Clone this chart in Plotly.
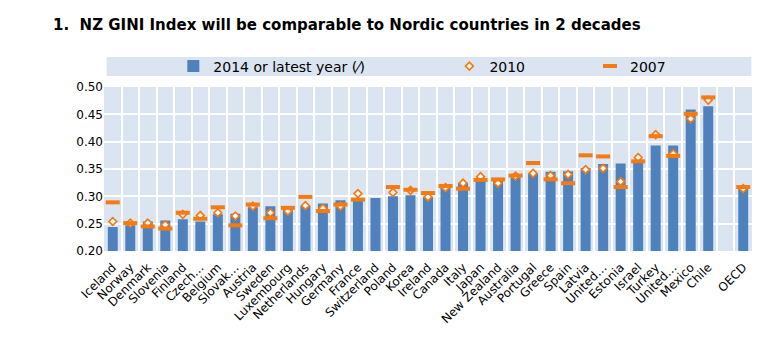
import plotly.graph_objects as go

categories = ["Iceland", "Norway", "Denmark", "Slovenia", "Finland", "Czech Republic", "Belgium",
              "Slovak Republic", "Austria", "Sweden", "Luxembourg", "Netherlands", "Hungary", "Germany",
              "France", "Switzerland", "Poland", "Korea", "Ireland", "Canada", "Italy", "Japan",
              "New Zealand", "Australia", "Portugal", "Greece", "Spain", "Latvia", "United Kingdom",
              "Estonia", "Israel", "Turkey", "United States", "Mexico", "Chile", " ", "OECD"]
tick_labels = ["Iceland", "Norway", "Denmark", "Slovenia", "Finland", "Czech…", "Belgium",
               "Slovak…", "Austria", "Sweden", "Luxembourg", "Netherlands", "Hungary", "Germany",
               "France", "Switzerland", "Poland", "Korea", "Ireland", "Canada", "Italy", "Japan",
               "New Zealand", "Australia", "Portugal", "Greece", "Spain", "Latvia", "United…",
               "Estonia", "Israel", "Turkey", "United…", "Mexico", "Chile", " ", "OECD"]

gini_2014 = [0.244, 0.247, 0.254, 0.256, 0.258, 0.254, 0.267, 0.268, 0.280, 0.282, 0.278, 0.283,
             0.287, 0.293, 0.295, 0.297, 0.300, 0.302, 0.299, 0.317, 0.325, 0.329, 0.331, 0.335,
             0.342, 0.345, 0.346, 0.352, 0.359, 0.360, 0.367, 0.393, 0.393, 0.459, 0.465, None, 0.314]
gini_2010 = [0.254, 0.251, 0.251, 0.248, 0.267, 0.265, 0.270, 0.264, 0.282, 0.270, 0.273, 0.283,
             0.278, 0.282, 0.305, None, 0.307, 0.311, 0.299, 0.316, 0.324, 0.336, 0.324, 0.337,
             0.342, 0.338, 0.340, 0.349, 0.351, 0.327, 0.371, 0.413, 0.378, 0.442, 0.476, None, 0.314]
gini_2007 = [0.289, 0.251, 0.245, 0.241, 0.270, 0.259, 0.280, 0.247, 0.285, 0.260, 0.279, 0.299,
             0.273, 0.285, 0.294, None, 0.317, 0.312, 0.306, 0.319, 0.314, 0.330, 0.331, 0.338,
             0.361, 0.331, 0.324, 0.375, 0.373, 0.317, 0.364, 0.410, 0.374, 0.451, 0.481, None, 0.317]

y_ticks = [0.20, 0.25, 0.30, 0.35, 0.40, 0.45, 0.50]

BLUE = "#4f81bd"
ORANGE = "#f67a12"
BAND = "#dbe5f1"
FONT = "DejaVu Sans"

fig = go.Figure()
fig.add_trace(go.Bar(
    x=categories, y=gini_2014, name="2014 or latest year (⁄)",
    marker=dict(color=BLUE, line=dict(width=0)), legend="legend",
))
fig.add_trace(go.Scatter(
    x=categories, y=gini_2010, name="2010", mode="markers",
    marker=dict(symbol="diamond", size=6, color="white", line=dict(color=ORANGE, width=1.7)),
    legend="legend2",
))
fig.add_trace(go.Scatter(
    x=categories, y=gini_2007, name="2007", mode="markers",
    marker=dict(symbol="line-ew", size=10, color=ORANGE, line=dict(color=ORANGE, width=4)),
    legend="legend3",
))

legend_common = dict(orientation="h", yanchor="middle", y=1.125, xanchor="left",
                     bgcolor="rgba(0,0,0,0)", borderwidth=0,
                     font=dict(family=FONT, size=14, color="#000000"))

fig.update_layout(
    width=769, height=350,
    margin=dict(l=104, r=17, t=87, b=99),
    paper_bgcolor="white",
    plot_bgcolor=BAND,
    bargap=0.43,
    font=dict(family=FONT, size=12, color="#000000"),
    title=dict(text="<b>1.  NZ GINI Index will be comparable to Nordic countries in 2 decades</b>",
               font=dict(family="DejaVu Sans", size=15, color="#000000"),
               x=53 / 769, xref="container", xanchor="left",
               y=1 - 25 / 350, yref="container", yanchor="middle"),
    legend=dict(legend_common, x=0.107),
    legend2=dict(legend_common, x=0.533),
    legend3=dict(legend_common, x=0.750),
    showlegend=True,
    shapes=[dict(type="rect", xref="paper", yref="paper", x0=0.004, x1=0.999,
                 y0=(251 - 76) / 164, y1=(251 - 57) / 164,
                 fillcolor=BAND, line=dict(width=0), layer="below")],
)
fig.update_xaxes(
    type="category", categoryorder="array", categoryarray=categories,
    range=[-0.5, len(categories) - 0.5],
    tickmode="array", tickvals=categories, ticktext=tick_labels,
    tickangle=-45, tickson="boundaries", ticks="", ticklabelstandoff=6,
    showgrid=True, gridcolor="white", gridwidth=2,
    tickfont=dict(family=FONT, size=12, color="#000000"),
    showline=False, zeroline=False,
)
fig.update_yaxes(
    range=[0.20, 0.50], tickmode="array", tickvals=y_ticks, tickformat=".2f",
    showgrid=True, gridcolor="white", gridwidth=2, zeroline=False, showline=False,
    tickfont=dict(family=FONT, size=12, color="#000000"),
)

fig.write_html("out.html")
